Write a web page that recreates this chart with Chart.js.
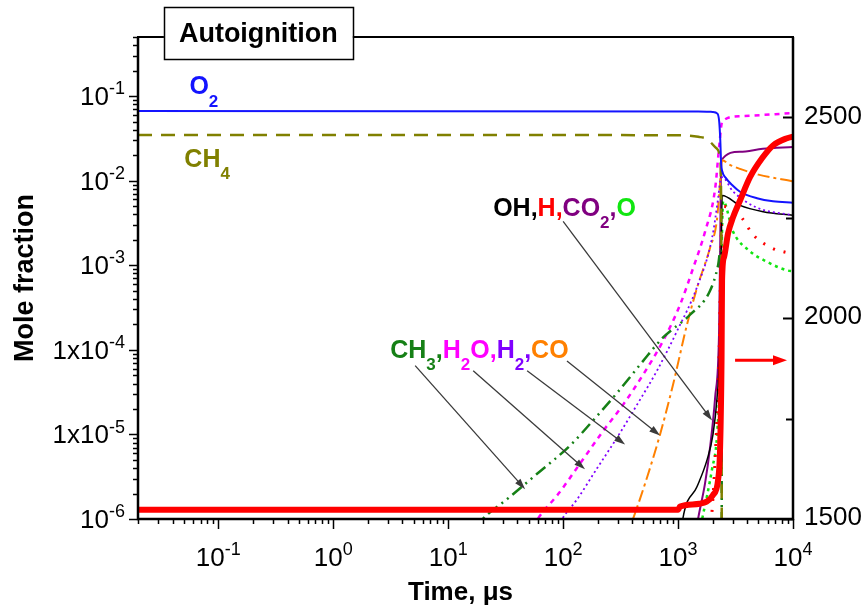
<!DOCTYPE html>
<html><head><meta charset="utf-8">
<script src="https://cdn.jsdelivr.net/npm/chart.js@4"></script>
<style>html,body{margin:0;padding:0;background:#fff}#wrap{width:865px;height:610px;position:relative}</style>
</head><body><div id="wrap"><canvas id="c"></canvas></div>
<script>
// ---------- data (time in µs, mole fraction / temperature in K) ----------
const o2Time  = [0.02, 1500, 2000, 2200, 2280, 2330, 2370, 2420, 2600, 3000, 3460, 4860, 6700, 10000];
const o2Frac  = [0.0666, 0.066, 0.065, 0.062, 0.05, 0.03, 0.016, 0.013, 0.0108, 0.0087, 0.0074, 0.0062, 0.0057, 0.0055];

const ch4Time = [0.02, 1000, 1500, 1790, 2183, 2318, 2360, 2390, 2405];
const ch4Frac = [0.0348, 0.0345, 0.033, 0.031, 0.0238, 0.0197, 0.01, 1e-4, 1e-8];

const ch3Time = [15, 20, 32.6, 59, 115, 182, 295, 497, 741, 1271, 1897, 2230, 2340, 2390, 2405];
const ch3Frac = [6e-7, 1e-6, 1.72e-6, 3.4e-6, 7.4e-6, 1.46e-5, 3.1e-5, 7.4e-5, 1.4e-4, 2.6e-4, 5e-4, 1e-3, 1.5e-3, 1e-4, 1e-8];

const h2oTime = [45, 60, 90.5, 140, 223, 333, 497, 741, 1040, 1350, 1718, 2100, 2300, 2420, 3460, 10000];
const h2oFrac = [5e-7, 1e-6, 1.97e-6, 4.5e-6, 1.1e-5, 2.25e-5, 5.1e-5, 1.28e-4, 3.4e-4, 9.2e-4, 2.5e-3, 8e-3, 0.029, 0.05, 0.058, 0.063];

const h2Time  = [75, 98, 132, 198, 295, 440, 657, 980, 1460, 1976, 2230, 2330, 2420, 3000, 4860, 10000];
const h2Frac  = [5e-7, 1e-6, 1.7e-6, 4e-6, 9.2e-6, 2.25e-5, 5.7e-5, 1.67e-4, 5.5e-4, 2.1e-3, 6.2e-3, 0.01, 0.011, 0.0075, 0.0048, 0.0039];

const coTime  = [330, 405, 537, 697, 905, 1197, 1462, 1897, 2170, 2300, 2420, 2800, 3460, 5000, 10000];
const coFrac  = [5e-7, 1e-6, 3.1e-6, 1e-5, 3.9e-5, 2e-4, 5.4e-4, 1.6e-3, 3.3e-3, 8e-3, 0.0175, 0.0155, 0.0138, 0.0118, 0.0098];

const ohTime  = [1000, 1100, 1460, 1787, 2014, 2183, 2300, 2380, 2420, 3460, 5500, 10000];
const ohFrac  = [3e-7, 1e-6, 2.4e-6, 5e-6, 1e-5, 2.7e-5, 1e-4, 2e-3, 0.0067, 0.0051, 0.0043, 0.0039];

const hTime   = [1800, 1950, 2150, 2280, 2350, 2420, 3000, 3605, 4490, 6560, 9000, 10000];
const hFrac   = [5e-7, 1e-6, 1e-5, 1e-4, 1e-3, 0.005, 0.0045, 0.0036, 0.0023, 0.0016, 0.0014, 0.00135];

const co2Time = [1300, 1493, 1718, 1897, 2100, 2275, 2330, 2365, 3458, 5460, 10000];
const co2Frac = [3e-7, 1e-6, 2.65e-6, 7e-6, 2.7e-5, 1.67e-4, 2e-3, 0.0172, 0.022, 0.0238, 0.025];

const oTime   = [1400, 1620, 1976, 2183, 2300, 2380, 2470, 3007, 4227, 5940, 8870, 10000];
const oFrac   = [4e-7, 1e-6, 3.9e-6, 9.8e-6, 5e-5, 1e-3, 0.0057, 0.0025, 0.00146, 0.0011, 0.00087, 0.00085];

const tempTime = [0.02, 1000, 1040, 1540, 2014, 2228, 2318, 2390, 2414, 2512, 2722, 3007, 3460, 4227, 5375, 6700, 8870, 10000];
const tempK    = [1523, 1523, 1531, 1538, 1560, 1597, 1672, 1900, 2094, 2152, 2211, 2251, 2293, 2351, 2398, 2430, 2448, 2452];

// tick labels
const xTickValues = [0.1, 1, 10, 100, 1000, 10000];
const xTickExps   = ['-1', '0', '1', '2', '3', '4'];
const yTickValues = [1e-6, 1e-5, 1e-4, 1e-3, 1e-2, 1e-1];
const yTickMants  = ['10', '1x10', '1x10', '10', '10', '10'];
const yTickExps   = ['-6', '-5', '-4', '-3', '-2', '-1'];
const tTickValues = [1500, 2000, 2500];

// ---------- styles ----------
const C = {blue:'#1414ff', olive:'#808000', dgreen:'#168016', magenta:'#ff00ff', violet:'#8000ff',
           orange:'#ff8000', black:'#000000', red:'#ff0000', purple:'#800080', green:'#11e611'};
const FONT = "'Liberation Sans', Arial, sans-serif";

function pts(t, v){ return t.map((x,i)=>({x, y:v[i]})); }
function ds(label, t, v, color, width, dash, axis, order){
  return {label, data: pts(t, v), borderColor: color, borderWidth: width, borderDash: dash,
    showLine: true, pointRadius: 0, fill: false, yAxisID: axis || 'y', order: order == null ? 5 : order,
    cubicInterpolationMode: 'monotone', clip: 0, borderCapStyle: 'butt'};
}

const datasets = [
  ds('T', tempTime, tempK, C.red, 6, [], 'y2', 0),
  ds('O2', o2Time, o2Frac, C.blue, 2, []),
  ds('CH4', ch4Time, ch4Frac, C.olive, 2.5, [14, 9]),
  ds('CH3', ch3Time, ch3Frac, C.dgreen, 2.5, [12, 5, 2, 5, 2, 5]),
  ds('H2O', h2oTime, h2oFrac, C.magenta, 2.5, [5, 5]),
  ds('H2', h2Time, h2Frac, C.violet, 1.8, [2, 3]),
  ds('CO', coTime, coFrac, C.orange, 2, [12, 4, 3, 4]),
  ds('OH', ohTime, ohFrac, C.black, 1.5, []),
  ds('H', hTime, hFrac, C.red, 3, [2, 9]),
  ds('CO2', co2Time, co2Frac, C.purple, 2, []),
  ds('O', oTime, oFrac, C.green, 2.5, [3, 4]),
];

// ---------- annotations (in data coordinates) ----------
const speciesLabels = [
  {at:[0.056, 0.1056], size:25, segs:[{t:'O',c:C.blue},{t:'2',c:C.blue,m:'sub'}]},
  {at:[0.0506, 0.0146], size:25, segs:[{t:'CH',c:C.olive},{t:'4',c:C.olive,m:'sub'}]},
  {at:[24.6, 0.00387], size:25, segs:[{t:'OH,',c:C.black},{t:'H,',c:C.red},{t:'CO',c:C.purple},{t:'2',c:C.purple,m:'sub'},{t:',',c:C.purple},{t:'O',c:C.green}]},
  {at:[3.13, 8.05e-5], size:25, segs:[{t:'CH',c:C.dgreen},{t:'3',c:C.dgreen,m:'sub'},{t:',',c:C.dgreen},{t:'H',c:C.magenta},{t:'2',c:C.magenta,m:'sub'},{t:'O,',c:C.magenta},{t:'H',c:C.violet},{t:'2',c:C.violet,m:'sub'},{t:',',c:C.violet},{t:'CO',c:C.orange}]},
];
const pointerArrows = [
  {from:[100, 0.0033], to:[1976, 1.46e-5]},
  {from:[5.16, 6.5e-5], to:[46.7, 2.25e-6]},
  {from:[16.5, 5.66e-5], to:[155, 3.87e-6]},
  {from:[48.6, 5.66e-5], to:[346, 7.6e-6]},
  {from:[108, 7.4e-5], to:[697, 9.7e-6]},
];
const tempArrow = {from:[3133, 1895], to:[8870, 1895]};
const titleBox = {at:[0.223, 0.4318], text:'Autoignition'};

// ---------- drawing helpers ----------
function segFont(s, size, bold){ const sz = s.m ? Math.round(size*0.68) : size; return (bold?'bold ':'') + sz + 'px ' + FONT; }
function richWidth(ctx, segs, size, bold){ let w=0; for(const s of segs){ ctx.font=segFont(s,size,bold); w+=ctx.measureText(s.t).width; } return w; }
function drawRich(ctx, segs, x, y, size, bold, align){
  const w = richWidth(ctx, segs, size, bold);
  let cx = align==='center' ? x-w/2 : align==='right' ? x-w : x;
  ctx.textBaseline='alphabetic'; ctx.textAlign='left';
  for(const s of segs){
    ctx.font = segFont(s,size,bold); ctx.fillStyle = s.c || '#000';
    const dy = s.m==='sub' ? size*0.5 : s.m==='sup' ? -size*0.42 : 0;
    ctx.fillText(s.t, cx, y+dy);
    cx += ctx.measureText(s.t).width;
  }
}
function arrow(ctx, x1, y1, x2, y2, color, lw, hl, hw){
  const ang = Math.atan2(y2-y1, x2-x1);
  ctx.save(); ctx.strokeStyle=color; ctx.fillStyle=color; ctx.lineWidth=lw; ctx.setLineDash([]);
  ctx.beginPath(); ctx.moveTo(x1,y1); ctx.lineTo(x2-Math.cos(ang)*hl*0.8, y2-Math.sin(ang)*hl*0.8); ctx.stroke();
  ctx.beginPath(); ctx.moveTo(x2,y2);
  ctx.lineTo(x2-hl*Math.cos(ang)+hw*Math.sin(ang), y2-hl*Math.sin(ang)-hw*Math.cos(ang));
  ctx.lineTo(x2-hl*Math.cos(ang)-hw*Math.sin(ang), y2-hl*Math.sin(ang)+hw*Math.cos(ang));
  ctx.closePath(); ctx.fill(); ctx.restore();
}
function logTicks(min, max){
  const out=[];
  for(let e=Math.floor(Math.log10(min)); e<=Math.ceil(Math.log10(max)); e++)
    for(let m=1;m<10;m++){ const v=m*Math.pow(10,e); if(v>=min*0.9999 && v<=max*1.0001) out.push({v, major:m===1}); }
  return out;
}

const decor = {
  id:'decor',
  afterDatasetsDraw(chart){
    const {ctx, chartArea:a, scales:{x, y, y2}} = chart;
    ctx.save();
    ctx.setLineDash([]); ctx.strokeStyle='#000';
    // ticks
    ctx.lineWidth=1.5;
    for(const t of logTicks(y.min, y.max)){ const py=Math.round(y.getPixelForValue(t.v))+0.5; ctx.beginPath(); ctx.moveTo(a.left-(t.major?9:5),py); ctx.lineTo(a.left,py); ctx.stroke(); }
    for(const t of logTicks(x.min, x.max)){ const px=Math.round(x.getPixelForValue(t.v))+0.5; ctx.beginPath(); ctx.moveTo(px,a.bottom); ctx.lineTo(px,a.bottom+(t.major?10:5)); ctx.stroke(); }
    ctx.lineWidth=2;
    for(let v=y2.min; v<=y2.max; v+=250){ const py=Math.round(y2.getPixelForValue(v))+0.5; ctx.beginPath(); ctx.moveTo(a.right-(v%500===0?10:7),py); ctx.lineTo(a.right,py); ctx.stroke(); }
    // frame
    ctx.lineWidth=2.5; ctx.beginPath(); ctx.moveTo(a.left,a.top); ctx.lineTo(a.left,a.bottom); ctx.lineTo(a.right,a.bottom); ctx.lineTo(a.right,a.top); ctx.stroke();
    ctx.lineWidth=2; ctx.beginPath(); ctx.moveTo(a.left-1,a.top); ctx.lineTo(a.right+1,a.top); ctx.stroke();
    // tick labels
    yTickValues.forEach((v,i)=>{ drawRich(ctx,[{t:yTickMants[i]},{t:yTickExps[i],m:'sup'}], a.left-13, y.getPixelForValue(v)+9, 26, false, 'right'); });
    xTickValues.forEach((v,i)=>{ drawRich(ctx,[{t:'10'},{t:xTickExps[i],m:'sup'}], x.getPixelForValue(v), a.bottom+47, 26, false, 'center'); });
    ctx.font='26px '+FONT; ctx.fillStyle='#000'; ctx.textAlign='left'; ctx.textBaseline='middle';
    tTickValues.forEach(v=>{ ctx.fillText(String(v), a.right+11, y2.getPixelForValue(v)-1); });
    // axis titles
    ctx.save(); ctx.translate(a.left-105, (a.top+a.bottom)/2); ctx.rotate(-Math.PI/2);
    ctx.font='bold 27px '+FONT; ctx.textAlign='center'; ctx.textBaseline='alphabetic'; ctx.fillText('Mole fraction',0,0); ctx.restore();
    drawRich(ctx,[{t:'Time, '},{t:'\u03bcs'}], (a.left+a.right)/2 - 5, a.bottom+81, 26, true, 'center');
    // title box
    const bx = x.getPixelForValue(titleBox.at[0]), by = y.getPixelForValue(titleBox.at[1]);
    ctx.font='bold 27px '+FONT; const tw = ctx.measureText(titleBox.text).width;
    ctx.fillStyle='#fff'; ctx.fillRect(bx-tw/2-15, by-35, tw+30, 52);
    ctx.strokeStyle='#000'; ctx.lineWidth=1.5; ctx.strokeRect(Math.round(bx-tw/2-15)+0.5, Math.round(by-35)+0.5, Math.round(tw+30), 52);
    ctx.fillStyle='#000'; ctx.textAlign='center'; ctx.textBaseline='alphabetic'; ctx.fillText(titleBox.text, bx, by);
    // species labels
    for(const L of speciesLabels){ drawRich(ctx, L.segs, x.getPixelForValue(L.at[0]), y.getPixelForValue(L.at[1]), L.size, true, 'left'); }
    // pointer arrows
    for(const A of pointerArrows){ arrow(ctx, x.getPixelForValue(A.from[0]), y.getPixelForValue(A.from[1]), x.getPixelForValue(A.to[0]), y.getPixelForValue(A.to[1]), '#3a3a3a', 1.3, 11, 3.5); }
    arrow(ctx, x.getPixelForValue(tempArrow.from[0]), y2.getPixelForValue(tempArrow.from[1]), x.getPixelForValue(tempArrow.to[0]), y2.getPixelForValue(tempArrow.to[1]), C.red, 3, 14, 5);
    ctx.restore();
  }
};

new Chart(document.getElementById('c'), {
  type: 'scatter',
  data: { datasets },
  options: {
    responsive: true, maintainAspectRatio: false, animation: false, devicePixelRatio: 1,
    layout: { padding: { left: 138, right: 72, top: 37, bottom: 91 } },
    plugins: { legend: { display: false }, tooltip: { enabled: false } },
    scales: {
      x:  { type: 'logarithmic', display: false, min: 0.02, max: 10000 },
      y:  { type: 'logarithmic', display: false, min: 1e-6, max: 0.5 },
      y2: { type: 'linear', display: false, min: 1500, max: 2700 }
    }
  },
  plugins: [decor]
});
</script></body></html>
